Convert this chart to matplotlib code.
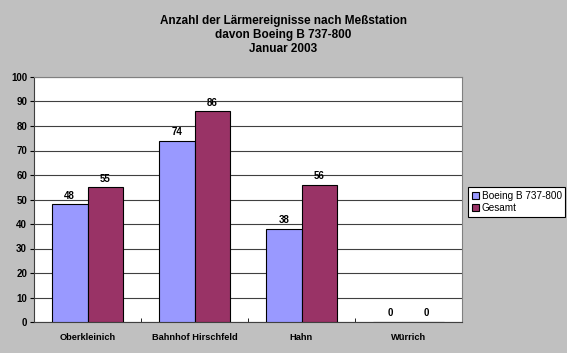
import numpy as np
import matplotlib.pyplot as plt

plt.rcParams['font.family'] = ['Liberation Sans', 'DejaVu Sans']

stations = ['Oberkleinich', 'Bahnhof Hirschfeld', 'Hahn', 'Würrich']
boeing = [48, 74, 38, 0]
gesamt = [55, 86, 56, 0]

fig = plt.figure(figsize=(5.67, 3.53), dpi=100, facecolor='#C0C0C0')
ax = fig.add_axes([34 / 567, 1 - 322 / 353, (462 - 34) / 567, (322 - 77) / 353])
ax.set_facecolor('white')

x = np.arange(len(stations))
w = 1 / 3
b1 = ax.bar(x - w / 2, boeing, w, color='#9999FF', edgecolor='black', linewidth=0.8,
            label='Boeing B 737-800', zorder=3)
b2 = ax.bar(x + w / 2, gesamt, w, color='#993366', edgecolor='black', linewidth=0.8,
            label='Gesamt', zorder=3)
for bars in (b1, b2):
    for r in bars:
        h = r.get_height()
        ax.text(r.get_x() + r.get_width() / 2, h + 1.5, f'{h:g}', ha='center', va='bottom',
                fontsize=7, fontweight='bold')

ax.set_xlim(-0.5, 3.5)
ax.set_ylim(0, 100)
ax.set_yticks(range(0, 101, 10))
ax.yaxis.grid(True, color='#404040', linewidth=0.8, zorder=0)
ax.set_xticks(x)
ax.set_xticklabels(stations, fontsize=6.7, fontweight='bold')
ax.set_xticks(np.arange(-0.5, 4, 1), minor=True)
ax.tick_params(axis='x', which='major', length=0, pad=8)
ax.tick_params(axis='x', which='minor', length=3, direction='in')
ax.tick_params(axis='y', labelsize=7, length=3, direction='out', pad=2)
for lab in ax.get_yticklabels():
    lab.set_fontweight('bold')
for s in ['top', 'right']:
    ax.spines[s].set_color('#808080')
ax.spines['left'].set_color('#404040')
ax.spines['bottom'].set_color('#404040')

fig.text(0.5, 1 - 35 / 353, 'Anzahl der Lärmereignisse nach Meßstation\ndavon Boeing B 737-800\nJanuar 2003',
         ha='center', va='center', fontsize=8.5, fontweight='bold', linespacing=1.25)

leg = fig.legend(loc='center left', bbox_to_anchor=(468 / 567, 1 - 202 / 353), fontsize=7.2,
                 frameon=True, fancybox=False, edgecolor='black', facecolor='white',
                 framealpha=1, handlelength=0.7, handleheight=0.7, handletextpad=0.3,
                 borderpad=0.35, labelspacing=0.25, borderaxespad=0)
leg.get_frame().set_linewidth(0.8)

fig.savefig('out.png', dpi=100, facecolor=fig.get_facecolor())
